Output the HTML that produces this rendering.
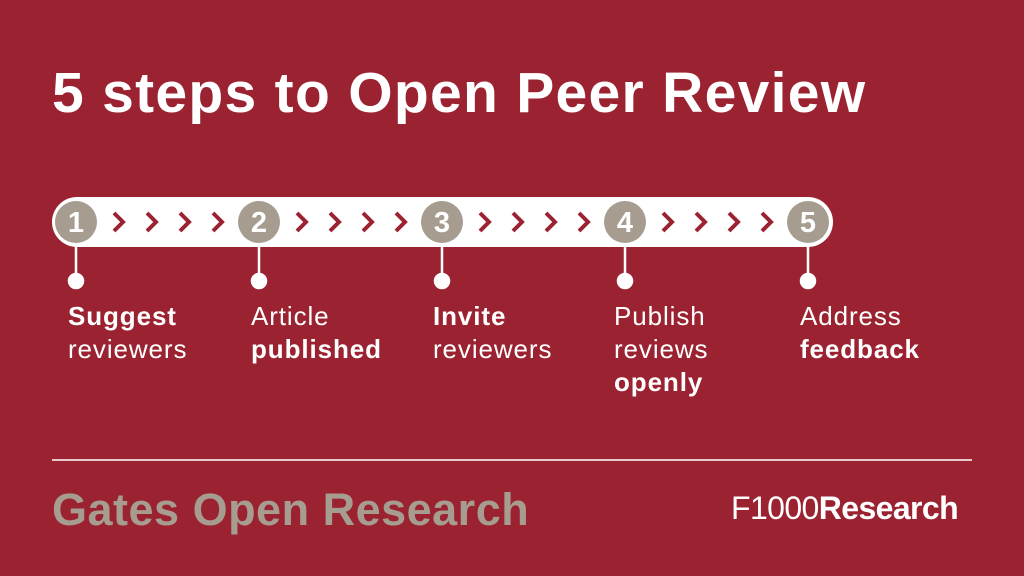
<!DOCTYPE html>
<html><head><style>
body{margin:0;width:1024px;height:576px;background:#9b2230;position:relative;overflow:hidden;font-family:"Liberation Sans",Arial,sans-serif;color:#fff}
.t{position:absolute;left:52px;top:60px;font-size:57px;font-weight:bold;white-space:nowrap;letter-spacing:1.3px}
.lab{position:absolute;top:300px;font-size:26px;line-height:33px;letter-spacing:0.9px}
.g{position:absolute;left:52px;top:484px;font-size:45px;font-weight:bold;color:#a69d90;white-space:nowrap;letter-spacing:0.5px}
.f{position:absolute;left:731px;top:490px;font-size:32px;white-space:nowrap;letter-spacing:-0.6px}
</style></head><body>
<div class="t">5 steps to Open Peer Review</div>
<svg width="1024" height="576" style="position:absolute;left:0;top:0">
<rect x="52" y="197" width="781" height="50" rx="25" fill="#fff"/>
<g fill="#a69d90">
<circle cx="76" cy="222" r="21"/><circle cx="259" cy="222" r="21"/><circle cx="442" cy="222" r="21"/><circle cx="625" cy="222" r="21"/><circle cx="808" cy="222" r="21"/>
</g>
<g font-family="Liberation Sans" font-weight="bold" font-size="29" fill="#fff" text-anchor="middle">
<text x="76" y="232">1</text><text x="259" y="232">2</text><text x="442" y="232">3</text><text x="625" y="232">4</text><text x="808" y="232">5</text>
</g>
<g stroke="#9b2230" stroke-width="4" fill="none">
<path id="c" d="M114 213 l9 9 l-9 9"/>
<use href="#c" x="33"/><use href="#c" x="66"/><use href="#c" x="99"/>
<use href="#c" x="183"/><use href="#c" x="216"/><use href="#c" x="249"/><use href="#c" x="282"/>
<use href="#c" x="366"/><use href="#c" x="399"/><use href="#c" x="432"/><use href="#c" x="465"/>
<use href="#c" x="549"/><use href="#c" x="582"/><use href="#c" x="615"/><use href="#c" x="648"/>
</g>
<g stroke="#fff" stroke-width="2.5" fill="#fff">
<line x1="76" y1="243" x2="76" y2="281"/><circle cx="76" cy="281" r="7"/>
<line x1="259" y1="243" x2="259" y2="281"/><circle cx="259" cy="281" r="7"/>
<line x1="442" y1="243" x2="442" y2="281"/><circle cx="442" cy="281" r="7"/>
<line x1="625" y1="243" x2="625" y2="281"/><circle cx="625" cy="281" r="7"/>
<line x1="808" y1="243" x2="808" y2="281"/><circle cx="808" cy="281" r="7"/>
</g>
<line x1="52" y1="460" x2="972" y2="460" stroke="#fff" stroke-width="1.5"/>
</svg>
<div class="lab" style="left:68px"><b>Suggest</b><br>reviewers</div>
<div class="lab" style="left:251px">Article<br><b>published</b></div>
<div class="lab" style="left:433px"><b>Invite</b><br>reviewers</div>
<div class="lab" style="left:614px">Publish<br>reviews<br><b>openly</b></div>
<div class="lab" style="left:800px">Address<br><b>feedback</b></div>
<div class="g">Gates Open Research</div>
<div class="f">F1000<b>Research</b></div>
</body></html>
